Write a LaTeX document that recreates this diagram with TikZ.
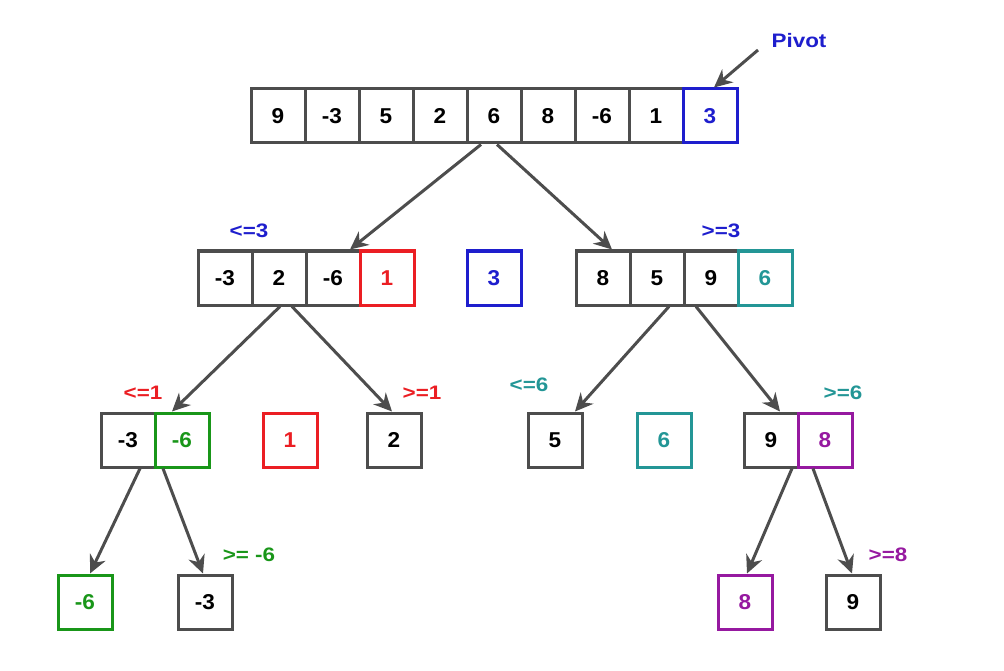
\documentclass[tikz,border=0pt]{standalone}
\usepackage{fontspec}
\setmainfont{Liberation Sans}
\newfontfamily\cellfont[FakeStretch=1.05]{Liberation Sans}
\newfontfamily\tagfont[FakeStretch=1.15]{Liberation Sans}
\usetikzlibrary{arrows.meta}
\definecolor{cellgray}{RGB}{77,77,77}
\definecolor{pblue}{RGB}{30,30,205}
\definecolor{pred}{RGB}{235,30,35}
\definecolor{pteal}{RGB}{35,150,150}
\definecolor{pgreen}{RGB}{25,150,25}
\definecolor{ppurple}{RGB}{150,25,160}
\tikzset{
  cell/.style={draw=cellgray, line width=3pt, minimum width=54pt, minimum height=54pt,
    inner sep=0pt, font=\cellfont\fontsize{21.5}{23}\selectfont\bfseries, text=black},
  hot/.style={cell, draw=#1, text=#1},
  tag/.style={font=\tagfont\fontsize{19.5}{21}\selectfont\bfseries, text=#1, inner sep=0pt},
  link/.style={draw=cellgray, line width=3pt, -{Stealth[length=18pt,width=17pt]}}
}
\begin{document}
\begin{tikzpicture}[x=1pt,y=-1pt]
\useasboundingbox (0,0) rectangle (1004,671);

% full array, pivot last
\foreach \v [count=\i] in {9,-3,5,2,6,8,-6,1} {
  \node[cell] (a\i) at ({278+54*(\i-1)},116) {\v};
}
\node[hot=pblue] (a9) at (710,116) {3};
\node[tag=pblue] (pivot) at (799,41) {Pivot};
\coordinate (pv) at (758,50);
\draw[link] (pv) -- ([xshift=4pt]a9.north);

% first partition
\node[cell] (b1) at (225,278) {-3};
\node[cell] (b2) at (279,278) {2};
\node[cell] (b3) at (333,278) {-6};
\node[hot=pred] (b4) at (387,278) {1};
\node[hot=pblue] (bp) at (494,278) {3};
\node[cell] (b5) at (603,278) {8};
\node[cell] (b6) at (657,278) {5};
\node[cell] (b7) at (711,278) {9};
\node[hot=pteal] (b8) at (765,278) {6};
\node[tag=pblue] (l1) at (249,231) {<=3};
\node[tag=pblue] (g1) at (721,231) {>=3};
\draw[link] ([xshift=-13pt]a5.south) -- ([xshift=17pt]b3.north);
\draw[link] ([xshift=3pt]a5.south) -- ([xshift=9pt]b5.north);

% second level
\node[cell] (c1) at (128,440) {-3};
\node[hot=pgreen] (c2) at (182,440) {-6};
\node[hot=pred] (cp1) at (290,440) {1};
\node[cell] (c3) at (394,440) {2};
\node[cell] (c4) at (555,440) {5};
\node[hot=pteal] (cp2) at (664,440) {6};
\node[cell] (c5) at (771,440) {9};
\node[hot=ppurple] (c6) at (825,440) {8};
\node[tag=pred] (l2) at (143,393) {<=1};
\node[tag=pred] (g2) at (422,393) {>=1};
\node[tag=pteal] (l3) at (529,385) {<=6};
\node[tag=pteal] (g3) at (843,393) {>=6};
\draw[link] ([xshift=1pt]b2.south) -- ([xshift=-10pt]c2.north);
\draw[link] ([xshift=13pt]b2.south) -- ([xshift=-2pt]c3.north);
\draw[link] ([xshift=12pt]b6.south) -- ([xshift=20pt]c4.north);
\draw[link] ([xshift=-15pt]b7.south) -- ([xshift=9pt]c5.north);

% third level
\node[hot=pgreen] (d1) at (85,602) {-6};
\node[cell] (d2) at (205,602) {-3};
\node[hot=ppurple] (d3) at (745,602) {8};
\node[cell] (d4) at (853,602) {9};
\node[tag=pgreen] (g4) at (249,555) {>= -6};
\node[tag=ppurple] (g5) at (888,555) {>=8};
\draw[link] ([xshift=12pt]c1.south) -- ([xshift=5pt]d1.north);
\draw[link] ([xshift=-19pt]c2.south) -- ([xshift=-2pt]d2.north);
\draw[link] ([xshift=21pt]c5.south) -- ([xshift=2pt]d3.north);
\draw[link] ([xshift=-12pt]c6.south) -- ([xshift=-1pt]d4.north);
\end{tikzpicture}
\end{document}
